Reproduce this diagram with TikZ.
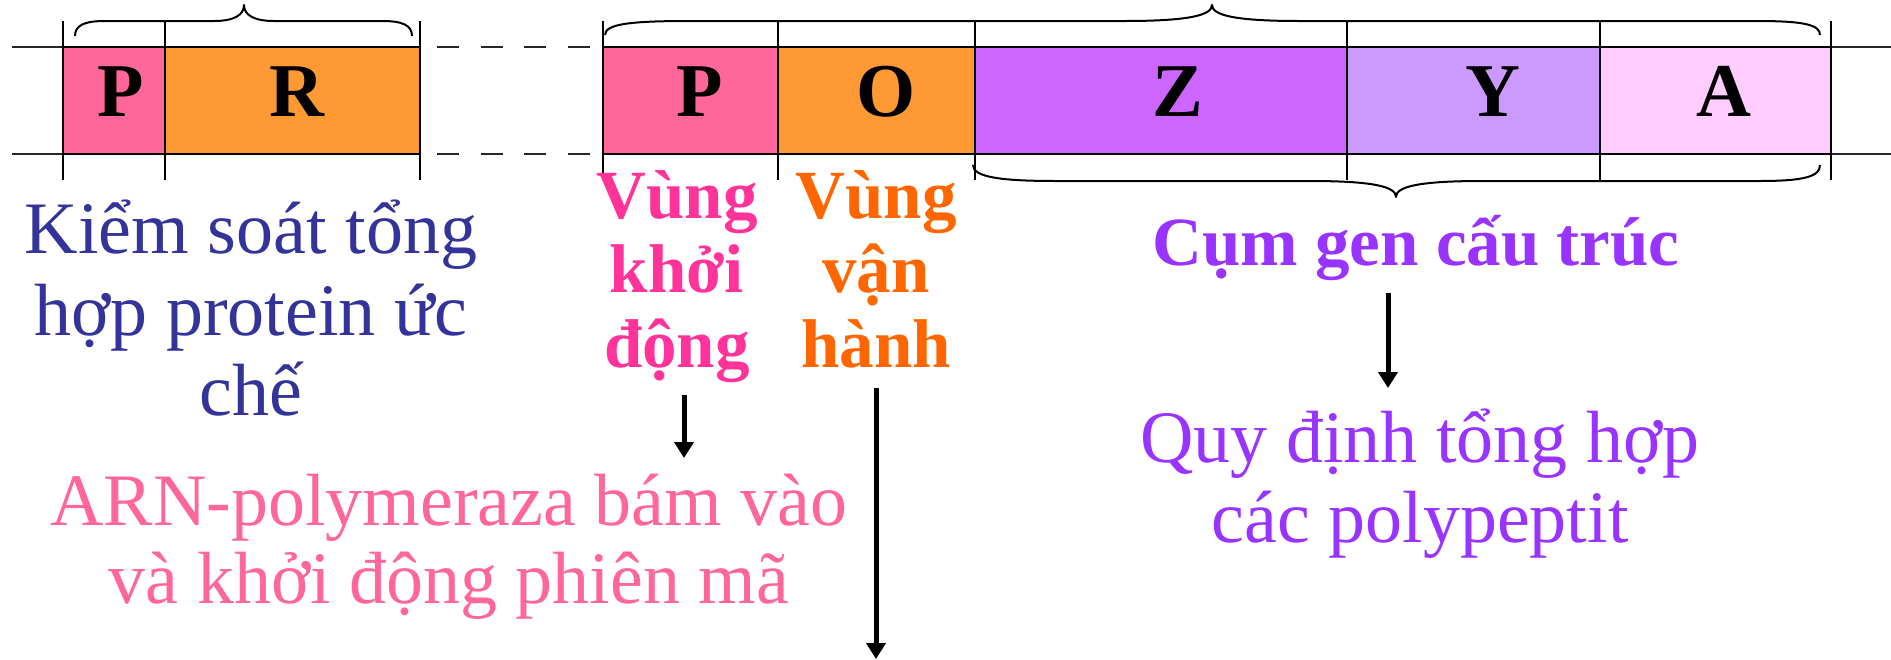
\documentclass[tikz,border=0pt]{standalone}
\usepackage{fontspec}
\setmainfont{Liberation Serif}
\usetikzlibrary{arrows.meta}
\definecolor{cP}{HTML}{FF6699}
\definecolor{cO}{HTML}{FF9933}
\definecolor{cZ}{HTML}{CC66FF}
\definecolor{cY}{HTML}{CC99FF}
\definecolor{cA}{HTML}{FFCCFF}
\definecolor{cNavy}{HTML}{333399}
\definecolor{cHot}{HTML}{FF3399}
\definecolor{cOrg}{HTML}{FF6600}
\definecolor{cPur}{HTML}{9933FF}
\definecolor{cRose}{HTML}{FF6699}
\begin{document}
\begin{tikzpicture}[x=1pt,y=-1pt,
  genebox/.style={draw=black, line width=2pt},
  dnaline/.style={line width=2.4pt, draw=black!85},
  tickline/.style={line width=2pt},
  bracepath/.style={line width=2pt, line join=round},
  boxletter/.style={font=\fontsize{76}{80}\selectfont\bfseries, anchor=base, inner sep=0pt},
  plaintext/.style={font=\fontsize{74}{80}\selectfont, anchor=base, inner sep=0pt},
  boldtext/.style={font=\fontsize{69}{74}\selectfont\bfseries, anchor=base, inner sep=0pt},
  arr/.style={line width=5pt, -{Triangle[length=16pt,width=19pt]}}]
\useasboundingbox (0,0) rectangle (1891,659);

% DNA strands
\draw[dnaline] (12,47) -- (420,47);
\draw[dnaline] (12,154) -- (420,154);
\draw[dnaline, dash pattern=on 22pt off 21.5pt] (437,47) -- (592,47);
\draw[dnaline, dash pattern=on 22pt off 21.5pt] (437,154) -- (592,154);
\draw[dnaline] (603,47) -- (1891,47);
\draw[dnaline] (603,154) -- (1891,154);

% gene boxes
\path[genebox, fill=cP] (63,47) rectangle (165,154);
\path[genebox, fill=cO] (165,47) rectangle (420,154);
\path[genebox, fill=cP] (603,47) rectangle (778,154);
\path[genebox, fill=cO] (778,47) rectangle (975,154);
\path[genebox, fill=cZ] (975,47) rectangle (1347,154);
\path[genebox, fill=cY] (1347,47) rectangle (1600,154);
\path[genebox, fill=cA] (1600,47) rectangle (1831,154);

% ticks
\foreach \x in {63,165,420,603,778,975,1347,1600,1831}
  \draw[tickline] (\x,21) -- (\x,180);

% letters
\node[boxletter] (lp1) at (121,116) {P};
\node[boxletter] (lr) at (297,116) {R};
\node[boxletter] (lp2) at (700,116) {P};
\node[boxletter] (lo) at (886,116) {O};
\node[boxletter] (lz) at (1178,116) {Z};
\node[boxletter] (ly) at (1493,116) {Y};
\node[boxletter] (la) at (1724,116) {A};

% braces
\draw[bracepath] (75,36) .. controls (75,25) and (85,21) .. (105,21) -- (214,21)
  .. controls (234,21) and (244,15) .. (244,5)
  .. controls (244,15) and (254,21) .. (274,21) -- (382,21)
  .. controls (402,21) and (412,25) .. (412,36);
\draw[bracepath] (605,35) .. controls (605,24) and (630,21) .. (690,21) -- (1125,21)
  .. controls (1190,21) and (1212,15) .. (1212,5)
  .. controls (1212,15) and (1234,21) .. (1299,21) -- (1757,21)
  .. controls (1805,21) and (1820,25) .. (1820,35);
\draw[bracepath] (973,165) .. controls (973,176) and (995,181) .. (1055,181) -- (1310,181)
  .. controls (1375,181) and (1396,187) .. (1396,197)
  .. controls (1396,187) and (1417,181) .. (1482,181) -- (1760,181)
  .. controls (1806,181) and (1820,176) .. (1820,165);

% left label
\node[plaintext, text=cNavy] (k1) at (251,253) {Kiểm soát tổng};
\node[plaintext, text=cNavy] (k2) at (251,335) {hợp protein ức};
\node[plaintext, text=cNavy] (k3) at (251,415) {chế};

% promoter label
\node[boldtext, text=cHot] (v1) at (677,218) {Vùng};
\node[boldtext, text=cHot] (v2) at (677,292) {khởi};
\node[boldtext, text=cHot] (v3) at (677,367) {động};

% operator label
\node[boldtext, text=cOrg] (o1) at (876,218) {Vùng};
\node[boldtext, text=cOrg] (o2) at (876,292) {vận};
\node[boldtext, text=cOrg] (o3) at (876,367) {hành};

% structural genes label
\node[boldtext, text=cPur] (c1) at (1416,265) {Cụm gen cấu trúc};

% outcomes
\node[plaintext, text=cRose] (a1) at (449,525) {ARN-polymeraza bám vào};
\node[plaintext, text=cRose] (a2) at (449,603) {và khởi động phiên mã};
\node[plaintext, text=cPur] (q1) at (1420,462) {Quy định tổng hợp};
\node[plaintext, text=cPur] (q2) at (1420,542) {các polypeptit};

% arrows
\coordinate (s1) at (684,395);
\coordinate (e1) at (684,458);
\coordinate (s2) at (876,388);
\coordinate (e2) at (876,659);
\coordinate (s3) at (1388,293);
\coordinate (e3) at (1388,388);
\draw[arr] (s1) -- (e1);
\draw[arr] (s2) -- (e2);
\draw[arr] (s3) -- (e3);
\end{tikzpicture}
\end{document}
